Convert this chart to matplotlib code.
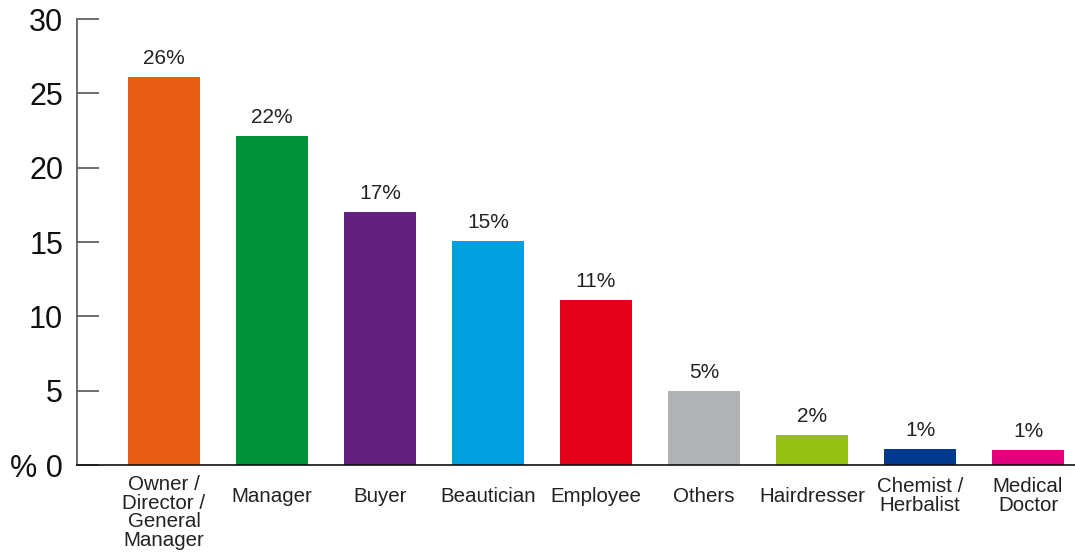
import matplotlib
matplotlib.use("Agg")
import matplotlib.pyplot as plt
import matplotlib.transforms as mtransforms

categories = ["Owner /\nDirector /\nGeneral\nManager", "Manager", "Buyer", "Beautician",
              "Employee", "Others", "Hairdresser", "Chemist /\nHerbalist", "Medical\nDoctor"]
values = [26.1, 22.1, 17.0, 15.1, 11.1, 5.0, 2.0, 1.05, 1.0]
value_labels = ["26%", "22%", "17%", "15%", "11%", "5%", "2%", "1%", "1%"]
colors = ["#E85E14", "#00923A", "#62217F", "#009FE0", "#E2001A",
          "#B1B3B5", "#95BF11", "#003A8C", "#E2007A"]
yticks = [0, 5, 10, 15, 20, 25, 30]
ytick_labels = ["% 0", "5", "10", "15", "20", "25", "30"]

plt.rcParams['font.family'] = ['Liberation Sans', 'DejaVu Sans']

fig = plt.figure(figsize=(10.75, 5.53), dpi=100)
ax = fig.add_axes([0.0716, 0.1591, 0.9284, 0.8065])

x = list(range(len(categories)))
ax.bar(x, values, width=0.67, color=colors, zorder=2)
ax.set_xlim(-0.806, 8.435)
ax.set_ylim(0, 30)

for xi, v, lab in zip(x, values, value_labels):
    ax.annotate(lab, (xi, v), xytext=(0, 6.5), textcoords="offset points",
                ha="center", va="bottom", fontsize=15, color="#222222")

ax.set_yticks(yticks)
ax.set_yticklabels(ytick_labels, fontsize=22)
ax.tick_params(axis="y", direction="in", length=16, width=1.2, color="#555555",
               pad=10, labelcolor="#111111")
ax.set_xticks([])

for s in ["top", "right"]:
    ax.spines[s].set_visible(False)
ax.spines["left"].set_color("#555555")
ax.spines["left"].set_linewidth(1.2)
ax.spines["bottom"].set_color("#111111")
ax.spines["bottom"].set_linewidth(1.2)

trans = mtransforms.blended_transform_factory(ax.transData, fig.transFigure)
for xi, cat in zip(x, categories):
    nlines = cat.count("\n") + 1
    if nlines > 2:
        ax.text(xi, 1 - 475 / 553, cat, transform=trans, ha="center", va="top",
                fontsize=14.8, linespacing=0.97, color="#222222")
    else:
        ax.text(xi, 1 - 496 / 553, cat, transform=trans, ha="center", va="center",
                fontsize=14.8, linespacing=0.97, color="#222222")

fig.savefig("out.png", dpi=100)
